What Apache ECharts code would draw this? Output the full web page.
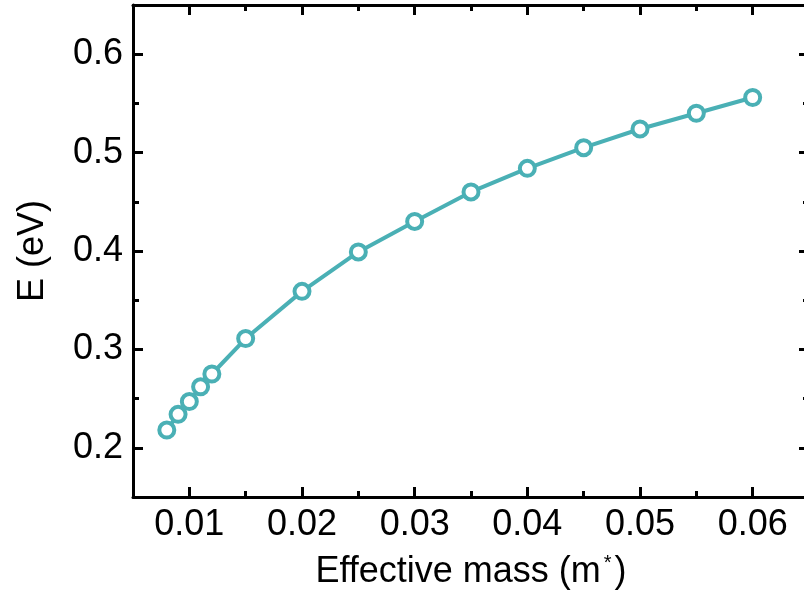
<!DOCTYPE html>
<html>
<head>
<meta charset="utf-8">
<script src="https://cdn.jsdelivr.net/npm/echarts@6/dist/echarts.min.js"></script>
<style>html,body{margin:0;padding:0;background:#fff;}#c{width:804px;height:603px;}</style>
</head>
<body>
<div id="c"></div>
<script>
// Data
var massX = [0.008, 0.009, 0.010, 0.011, 0.012, 0.015, 0.020, 0.025, 0.030, 0.035, 0.040, 0.045, 0.050, 0.055, 0.060];
var energyE = [0.218, 0.234, 0.247, 0.262, 0.275, 0.311, 0.359, 0.399, 0.430, 0.460, 0.484, 0.505, 0.524, 0.540, 0.556];
var xMajorTicks = [0.01, 0.02, 0.03, 0.04, 0.05, 0.06];
var xMinorTicks = [0.015, 0.025, 0.035, 0.045, 0.055];
var yMajorTicks = [0.2, 0.3, 0.4, 0.5, 0.6];
var yMinorTicks = [0.25, 0.35, 0.45, 0.55];
var xTitle = 'Effective mass (m';
var yTitle = 'E (eV)';

var FONT = '"Liberation Sans", Arial, Helvetica, sans-serif';
var TEAL = '#4AB0B5';
var X_MIN = 0.005, X_MAX = 0.065, Y_MIN = 0.15, Y_MAX = 0.65;

function xAxisDef(pos, ticks, len, showLabel, showLine, name) {
  var a = {
    type: 'value', position: pos, min: X_MIN, max: X_MAX,
    axisLine: {show: showLine, onZero: false, lineStyle: {color: '#000', width: 3}},
    axisTick: {show: true, inside: true, length: len, customValues: ticks, lineStyle: {color: '#000', width: 3}},
    axisLabel: {show: showLabel, customValues: ticks, margin: 10, color: '#000', fontFamily: FONT, fontSize: 36,
      formatter: function (v) { return String(Math.round(v * 1000) / 1000); }},
    splitLine: {show: false}
  };
  if (name) {
    a.name = '{t|' + name + '}{s|*}{t|)}';
    a.nameLocation = 'middle';
    a.nameGap = 56;
    a.nameTextStyle = {
      rich: {
        t: {fontFamily: FONT, fontSize: 36, color: '#000'},
        s: {fontFamily: FONT, fontSize: 20, color: '#000', verticalAlign: 'top', padding: [0, 3, 18, 3]}
      }
    };
  }
  return a;
}
function yAxisDef(pos, ticks, len, showLabel, showLine, name) {
  var a = {
    type: 'value', position: pos, min: Y_MIN, max: Y_MAX,
    axisLine: {show: showLine, onZero: false, lineStyle: {color: '#000', width: 3}},
    axisTick: {show: true, inside: true, length: len, customValues: ticks, lineStyle: {color: '#000', width: 3}},
    axisLabel: {show: showLabel, customValues: ticks, margin: 10, color: '#000', fontFamily: FONT, fontSize: 36,
      formatter: function (v) { return String(Math.round(v * 100) / 100); }},
    splitLine: {show: false}
  };
  if (name) {
    a.name = name;
    a.nameLocation = 'middle';
    a.nameGap = 82;
    a.nameTextStyle = {fontFamily: FONT, fontSize: 36, color: '#000'};
  }
  return a;
}

var chart = echarts.init(document.getElementById('c'), null, {renderer: 'canvas'});
chart.setOption({
  animation: false,
  backgroundColor: '#fff',
  grid: {left: 133, top: 5, width: 676, height: 492, containLabel: false, outerBoundsMode: 'none'},
  xAxis: [
    xAxisDef('bottom', xMajorTicks, 10, true, true, xTitle),
    xAxisDef('bottom', xMinorTicks, 6, false, false),
    xAxisDef('top', xMajorTicks, 10, false, true),
    xAxisDef('top', xMinorTicks, 6, false, false)
  ],
  yAxis: [
    yAxisDef('left', yMajorTicks, 10, true, true, yTitle),
    yAxisDef('left', yMinorTicks, 6, false, false),
    yAxisDef('right', yMajorTicks, 10, false, true),
    yAxisDef('right', yMinorTicks, 6, false, false)
  ],
  series: [{
    type: 'line',
    xAxisIndex: 0, yAxisIndex: 0,
    data: massX.map(function (x, i) { return [x, energyE[i]]; }),
    lineStyle: {color: TEAL, width: 4},
    symbol: 'circle',
    symbolSize: 15,
    itemStyle: {color: '#fff', borderColor: TEAL, borderWidth: 4},
    z: 3
  }]
});
</script>
</body>
</html>
